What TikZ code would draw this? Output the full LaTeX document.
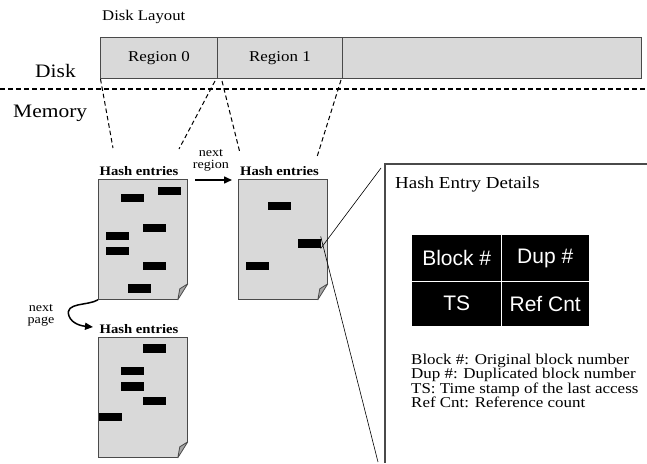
\documentclass[tikz,border=0pt]{standalone}
\usepackage{fontspec}
\setmainfont[FakeStretch=1.13]{Liberation Serif}
\setsansfont{Liberation Sans}
\usetikzlibrary{arrows.meta}
\definecolor{pagegray}{HTML}{D9D9D9}
\definecolor{foldgray}{HTML}{A6A6A6}
\definecolor{edgegray}{HTML}{4A4A4A}
\newcommand\hashpage[3]{%
  \node[pagebox, anchor=north west] (#1) at (#2,#3) {};
  \fill[white] ([xshift=0.6pt,yshift=-0.6pt]#1.south east) -- ++(0,-17) -- ++(-11,17) -- cycle;
  \draw[edgegray, line width=0.8pt, fill=foldgray, line join=round]
    ([yshift=16pt]#1.south east) -- ([xshift=-10pt]#1.south east) -- ([xshift=-8pt,yshift=11pt]#1.south east) -- cycle;
}
\begin{document}
\begin{tikzpicture}[x=1pt,y=-1pt,
  pagebox/.style={draw=edgegray, line width=0.8pt, fill=pagegray, minimum width=89pt, minimum height=120pt, inner sep=0pt},
  bar/.style={fill=black, minimum width=23pt, minimum height=8.5pt, inner sep=0pt},
  region/.style={draw=edgegray, line width=0.8pt, fill=pagegray, minimum height=41pt, inner sep=0pt, font=\fontsize{15}{17}\selectfont},
  conn/.style={black, line width=1pt, dash pattern=on 4.5pt off 3pt},
  sep/.style={black, line width=1.4pt, dash pattern=on 5pt off 3pt},
  hlabel/.style={font=\fontsize{13}{15}\selectfont\bfseries, anchor=base, inner sep=0pt},
  small/.style={font=\fontsize{12.5}{12}\selectfont, align=center, inner sep=0pt},
  cell/.style={font=\sffamily\fontsize{21}{24}\selectfont, text=white, inner sep=0pt},
  thinline/.style={black, line width=0.6pt}
]
\useasboundingbox (0,0) rectangle (647,463);

% Disk layout
\node[anchor=base west, inner sep=0pt, font=\fontsize{14.8}{17}\selectfont] (title) at (102,20) {Disk Layout};
\node[region, minimum width=117pt, anchor=north west] (r0) at (100,37) {Region 0};
\node[region, minimum width=125pt, anchor=north west] (r1) at (217,37) {Region 1};
\node[region, minimum width=299pt, anchor=north west] (r2) at (342,37) {};

\node[anchor=base west, inner sep=0pt, font=\fontsize{19}{22}\selectfont] (disk) at (35,77) {Disk};
\node[anchor=base west, inner sep=0pt, font=\fontsize{19}{22}\selectfont] (mem) at (13,117) {Memory};
\coordinate (dl) at (0,89);
\coordinate (dr) at (647,89);
\draw[sep] (dl) -- (dr);

% Pages
\hashpage{p1}{98}{179}
\hashpage{p2}{238}{179}
\hashpage{p3}{98}{337}

\node[hlabel] (l1) at (139,175) {Hash entries};
\node[hlabel] (l2) at (279.5,175) {Hash entries};
\node[hlabel] (l3) at (139,333) {Hash entries};

% bars page 1
\node[bar] (a1) at (132.5,198) {};
\node[bar] (a2) at (169,191) {};
\node[bar] (a3) at (154.5,228) {};
\node[bar] (a4) at (117.5,236) {};
\node[bar] (a5) at (117.5,251) {};
\node[bar] (a6) at (154.5,266) {};
\node[bar] (a7) at (139.5,288.5) {};
% bars page 2
\node[bar] (b1) at (279.5,206) {};
\node[bar] (b2) at (309,243.5) {};
\node[bar] (b3) at (257.5,266) {};
% bars page 3
\node[bar] (c1) at (154.5,348.5) {};
\node[bar] (c2) at (132.5,371) {};
\node[bar] (c3) at (132.5,386.5) {};
\node[bar] (c4) at (154.5,401) {};
\node[bar] (c5) at (110.5,417) {};

% dashed connectors disk -> memory
\coordinate (d1s) at (100.5,79);
\coordinate (d1e) at (113,148);
\coordinate (d2s) at (215,81);
\coordinate (d2e) at (179,149);
\coordinate (d3s) at (222,81);
\coordinate (d3e) at (240,153);
\coordinate (d4s) at (341,80);
\coordinate (d4e) at (317,157);
\draw[conn] (d1s) -- (d1e);
\draw[conn] (d2s) -- (d2e);
\draw[conn] (d3s) -- (d3e);
\draw[conn] (d4s) -- (d4e);

% next region
\node[small] (nr) at (211,160) {next\\region};
\coordinate (nra) at (195,180);
\coordinate (nrb) at (232,180);
\draw[line width=1.5pt, -{Triangle[length=8pt,width=7pt]}] (nra) -- (nrb);

% next page
\node[small] (np) at (41,315) {next\\page};
\draw[line width=1.5pt, -{Triangle[length=8pt,width=7pt]}] (p1.south west) .. controls (88,306) and (64,302) .. (69,316) .. controls (72,324) and (82,326) .. (93,327);

% details panel
\coordinate (pt) at (385,164);
\coordinate (pr) at (647,164);
\coordinate (pb) at (385,463);
\draw[edgegray, line width=1.4pt] (pr) -- (pt) -- (pb);
\node[anchor=base west, inner sep=0pt, font=\fontsize{16.8}{19}\selectfont] (det) at (395,188) {Hash Entry Details};

\node[fill=black, minimum width=89pt, minimum height=46pt, inner sep=0pt, anchor=north west] (t1) at (412,235) {};
\node[fill=black, minimum width=88pt, minimum height=46pt, inner sep=0pt, anchor=north west] (t2) at (501,235) {};
\node[fill=black, minimum width=89pt, minimum height=45pt, inner sep=0pt, anchor=north west] (t3) at (412,281) {};
\node[fill=black, minimum width=88pt, minimum height=45pt, inner sep=0pt, anchor=north west] (t4) at (501,281) {};
\draw[white, line width=0.9pt] (t1.north east) -- (t3.south east);
\draw[white, line width=0.9pt] (t1.south west) -- (t2.south east);
\node[cell] at (t1.center) {Block \#};
\node[cell] at (t2.center) {Dup \#};
\node[cell] at (t3.center) {TS};
\node[cell] at (t4.center) {Ref Cnt};

\node[anchor=north west, inner sep=0pt, align=left, font=\fontsize{15}{14.3}\selectfont] (legend) at (411,354)
  {Block \#: Original block number\\Dup \#: Duplicated block number\\TS: Time stamp of the last access\\Ref Cnt: Reference count};

% zoom lines
\coordinate (z1) at (381,168);
\coordinate (z2) at (378,462);
\draw[thinline] ([yshift=-5pt]b2.east) -- (z1);
\draw[thinline] ([yshift=7pt]b2.east) -- (z2);
\end{tikzpicture}
\end{document}
